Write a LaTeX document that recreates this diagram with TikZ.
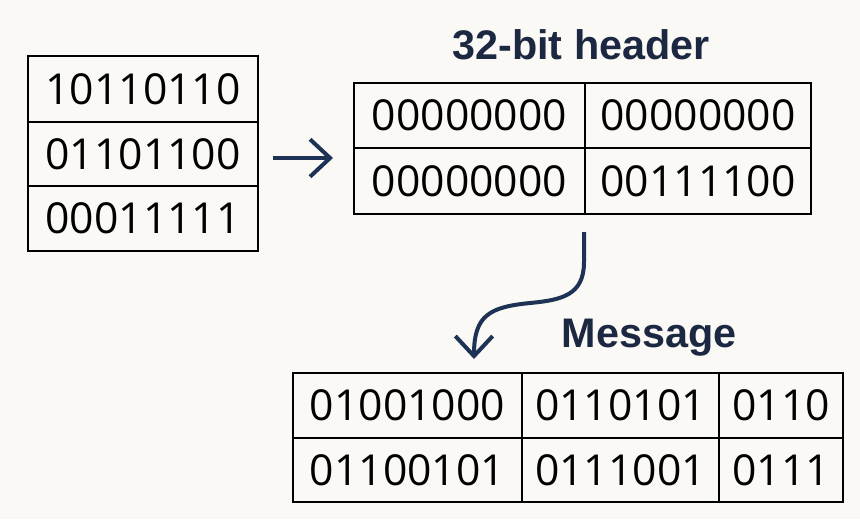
\documentclass[tikz,border=0pt]{standalone}
\usepackage{fontspec}
\setmainfont{Liberation Sans}
\newfontfamily\bitsfont{Open Sans}
\usetikzlibrary{arrows.meta}
\definecolor{bgpaper}{RGB}{250,249,245}
\definecolor{navy}{RGB}{29,50,84}
\definecolor{titlenavy}{RGB}{28,40,66}
\tikzset{
  cell/.style={draw=black,line width=2.2pt,inner sep=0pt,font=\bitsfont\fontsize{32}{38}\selectfont},
  title/.style={text=titlenavy,inner sep=0pt,font=\fontsize{31}{36}\selectfont\bfseries},
  flow/.style={draw=navy,line width=3pt,-{Straight Barb[length=15pt,width=28pt]}}
}
\begin{document}
\begin{tikzpicture}[x=0.75pt,y=0.75pt,yscale=-1,xscale=1]
\useasboundingbox (0,0) rectangle (860,519);
\fill[bgpaper] (0,0) rectangle (860,519);

%Shape: input bytes
\node [cell,minimum width=172.5pt,minimum height=49.5pt] (in1) at (143,89) {10110110};
\node [cell,minimum width=172.5pt,minimum height=48pt] (in2) at (143,154) {01101100};
\node [cell,minimum width=172.5pt,minimum height=48.75pt] (in3) at (143,218.5) {00011111};

%Shape: header table
\node [cell,minimum width=173.25pt,minimum height=48.75pt] (hd11) at (469.5,115.5) {00000000};
\node [cell,minimum width=169.5pt,minimum height=48.75pt] (hd12) at (698,115.5) {00000000};
\node [cell,minimum width=173.25pt,minimum height=49.5pt] (hd21) at (469.5,181) {00000000};
\node [cell,minimum width=169.5pt,minimum height=49.5pt] (hd22) at (698,181) {00111100};

%Shape: message table
\node [cell,minimum width=171.75pt,minimum height=48.75pt] (ms11) at (407.5,405.5) {01001000};
\node [cell,minimum width=147.75pt,minimum height=48.75pt] (ms12) at (620.5,405.5) {0110101};
\node [cell,minimum width=93pt,minimum height=48.75pt] (ms13) at (781,405.5) {0110};
\node [cell,minimum width=171.75pt,minimum height=48pt] (ms21) at (407.5,470) {01100101};
\node [cell,minimum width=147.75pt,minimum height=48pt] (ms22) at (620.5,470) {0111001};
\node [cell,minimum width=93pt,minimum height=48pt] (ms23) at (781,470) {0111};

% Text Node
\node [title] (hdtitle) at (581,45) {32-bit header};
% Text Node
\node [title] (mstitle) at (649,338) {Message};

%Straight Lines
\coordinate (inout) at (273,158);
\coordinate (hdin) at (333,158);
\draw [flow] (inout) -- (hdin);

%Curve Lines
\coordinate (hdout) at (584,232);
\coordinate (msin) at (474,359);
\draw [flow] (hdout) -- (584,262) .. controls (584,295) and (562,300) .. (530,303) .. controls (490,307) and (474,315) .. (msin);

\end{tikzpicture}
\end{document}
